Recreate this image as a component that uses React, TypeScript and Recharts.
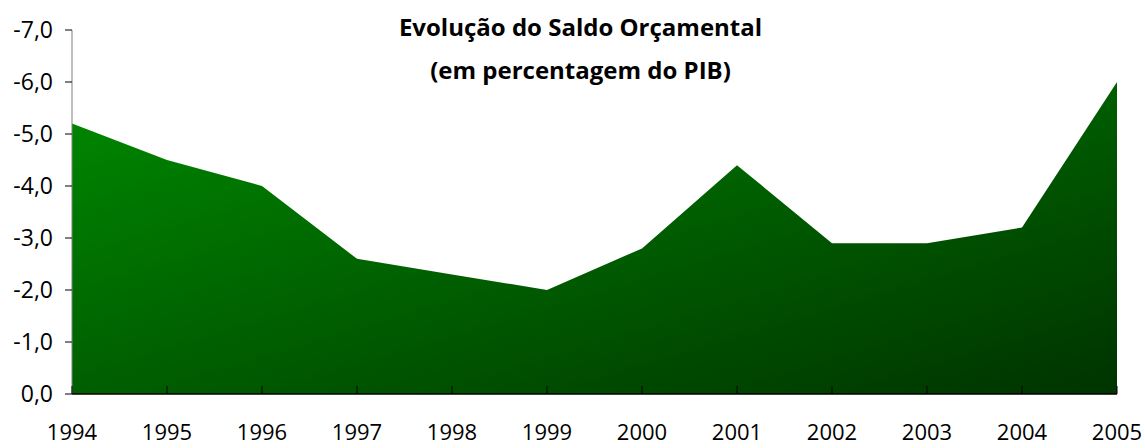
import { AreaChart, Area, XAxis, YAxis } from 'recharts';

const years = ['1994', '1995', '1996', '1997', '1998', '1999', '2000', '2001', '2002', '2003', '2004', '2005'];
const saldo = [-5.2, -4.5, -4.0, -2.6, -2.3, -2.0, -2.8, -4.4, -2.9, -2.9, -3.2, -6.0];
const yTicks = [0, -1, -2, -3, -4, -5, -6, -7];

const data = years.map((year, i) => ({ year, saldo: saldo[i] }));

const FONT = '"Open Sans", Lato, sans-serif';

function YearTick(props: any) {
  const { x, y, payload } = props;
  return (
    <g>
      <line x1={x} y1={y - 8} x2={x} y2={y} stroke="#000" strokeWidth={1} />
      <text x={x} y={y + 40} textAnchor="middle" dominantBaseline="middle" fontSize={22} fill="#000" fontFamily={FONT}>
        {payload.value}
      </text>
    </g>
  );
}

export default function App() {
  return (
    <div style={{ position: 'absolute', left: 0, top: 0, width: 1145, height: 448, background: '#fff' }}>
      <AreaChart width={1145} height={448} data={data} margin={{ top: 30, right: 28, bottom: 0, left: 0 }}>
        <defs>
          <linearGradient id="greenFill" x1="0" y1="0" x2="1" y2="1">
            <stop offset="0%" stopColor="#008a00" />
            <stop offset="100%" stopColor="#003300" />
          </linearGradient>
        </defs>
        <XAxis
          dataKey="year"
          height={54}
          tickSize={0}
          tickMargin={0}
          tick={<YearTick />}
          axisLine={{ stroke: '#000', strokeWidth: 1.5 }}
          interval={0}
          padding={{ left: 0, right: 0 }}
        />
        <YAxis
          reversed
          domain={[-7, 0]}
          ticks={yTicks}
          width={72}
          tickSize={7}
          tickMargin={12}
          interval={0}
          axisLine={{ stroke: '#808080' }}
          tickLine={{ stroke: '#000' }}
          tickFormatter={(v: number) => v.toFixed(1).replace('.', ',')}
          tick={{ fontSize: 23, fill: '#000', fontFamily: FONT }}
        />
        <Area
          type="linear"
          dataKey="saldo"
          baseValue={0}
          stroke="none"
          fill="url(#greenFill)"
          fillOpacity={1}
          isAnimationActive={false}
          dot={false}
          activeDot={false}
        />
      </AreaChart>
      <div
        style={{
          position: 'absolute',
          left: 0,
          top: 12,
          width: 1145,
          textAlign: 'center',
          fontFamily: FONT,
          fontWeight: 700,
          fontSize: 24,
          color: '#000',
          paddingLeft: 16,
          boxSizing: 'border-box',
        }}
      >
        <div style={{ lineHeight: '30px' }}>Evolução do Saldo Orçamental</div>
        <div style={{ lineHeight: '30px', marginTop: 13 }}>(em percentagem do PIB)</div>
      </div>
    </div>
  );
}
